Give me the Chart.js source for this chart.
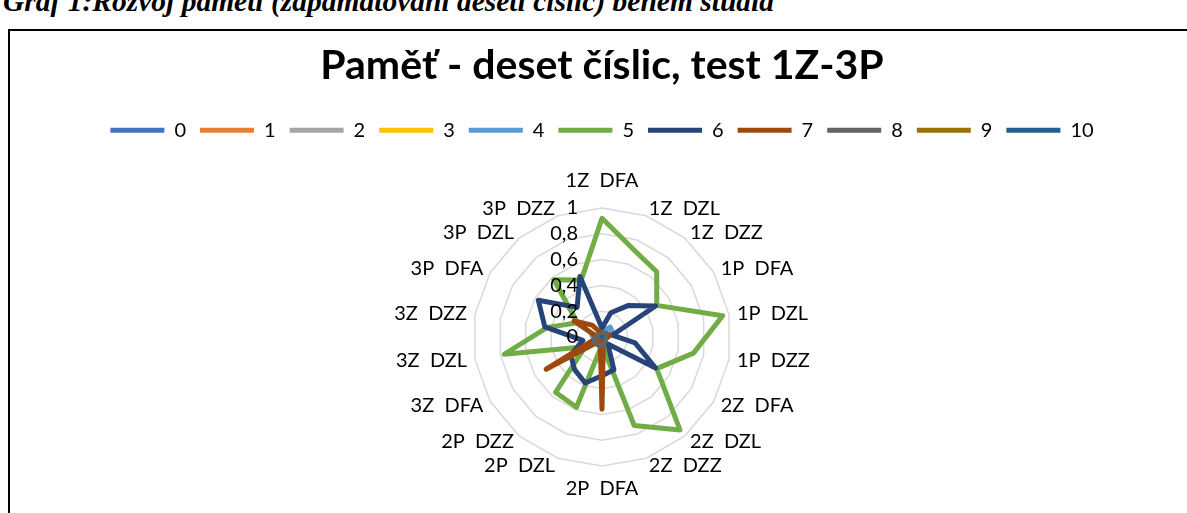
<!DOCTYPE html>
<html>
<head>
<meta charset="utf-8">
<script src="https://cdn.jsdelivr.net/npm/chart.js@4.4.1/dist/chart.umd.min.js"></script>
<style>
  html, body { margin: 0; padding: 0; background: #fff; overflow: hidden; }
  #cap { position: absolute; left: 3px; top: -13px; font: bold italic 29.5px/29px "Liberation Serif"; white-space: nowrap; color: #000; }
  #box { position: absolute; left: 8px; top: 29px; width: 1220px; height: 520px; border-left: 2px solid #000; border-top: 2px solid #000; }
  #wrap { position: absolute; left: 0; top: 0; width: 1184px; height: 482px; }
</style>
</head>
<body>
<div id="cap">Graf 1:Rozvoj paměti (zapamatování deseti číslic) během studia</div>
<div id="box"><div id="wrap"><canvas id="c"></canvas></div></div>
<script>
// kategorie (období + test)
const categories = ['1Z  DFA', '1Z  DZL', '1Z  DZZ', '1P  DFA', '1P  DZL', '1P  DZZ',
                    '2Z  DFA', '2Z  DZL', '2Z  DZZ', '2P  DFA', '2P  DZL', '2P  DZZ',
                    '3Z  DFA', '3Z  DZL', '3Z  DZZ', '3P  DFA', '3P  DZL', '3P  DZZ'];

const seriesNames = ['0', '1', '2', '3', '4', '5', '6', '7', '8', '9', '10'];
const seriesColors = ['#4472C4', '#ED7D31', '#A5A5A5', '#FFC000', '#5B9BD5', '#70AD47',
                      '#264478', '#9E480E', '#636363', '#997300', '#255E91'];

// podíly
const s0  = [0, 0, 0, 0, 0, 0, 0, 0, 0, 0, 0, 0, 0, 0, 0, 0, 0, 0];
const s1  = [0, 0, 0, 0, 0, 0, 0, 0, 0, 0, 0, 0, 0, 0, 0, 0, 0, 0];
const s2  = [0, 0, 0, 0, 0, 0, 0, 0, 0, 0, 0, 0, 0, 0, 0, 0, 0, 0];
const s3  = [0, 0, 0, 0, 0, 0, 0, 0, 0, 0, 0, 0, 0, 0, 0, 0, 0, 0];
const s4  = [0.03, 0.06, 0.1, 0.09, 0.05, 0.03, 0.02, 0.02, 0.02, 0.02, 0.02, 0.02, 0.03, 0.06, 0.08, 0.04, 0.03, 0.03];
const s5  = [0.92, 0.72, 0.66, 0.49, 0.95, 0.72, 0.49, 0.94, 0.73, 0.06, 0.58, 0.56, 0.15, 0.77, 0.43, 0.22, 0.58, 0.47];
const s6  = [0.07, 0.2, 0.32, 0.48, 0.08, 0.26, 0.48, 0.07, 0.27, 0.3, 0.38, 0.33, 0.28, 0.15, 0.45, 0.57, 0.3, 0.5];
const s7  = [0.03, 0.03, 0.04, 0.05, 0.06, 0.04, 0.03, 0.03, 0.03, 0.56, 0.04, 0.05, 0.5, 0.04, 0.05, 0.25, 0.12, 0.04];
const s8  = [0.02, 0.03, 0.04, 0.04, 0.03, 0.03, 0.03, 0.04, 0.05, 0.07, 0.07, 0.07, 0.07, 0.06, 0.04, 0.03, 0.02, 0.02];
const s9  = [0, 0, 0, 0, 0, 0, 0, 0, 0, 0, 0, 0, 0, 0, 0, 0, 0, 0];
const s10 = [0, 0, 0, 0, 0, 0, 0, 0, 0, 0, 0, 0, 0, 0, 0, 0, 0, 0];
const seriesValues = [s0, s1, s2, s3, s4, s5, s6, s7, s8, s9, s10];

const tickValues = [0, 0.2, 0.4, 0.6, 0.8, 1];
const tickLabels = ['0', '0,2', '0,4', '0,6', '0,8', '1'];

const FONT = 'Lato';

// popisky osy vlevo od středu + popisky kategorií vycentrované na paprsek (jako Excel)
const labelsPlugin = {
    id: 'excelLabels',
    afterDatasetsDraw(chart) {
        const s = chart.scales.r;
        const ctx = chart.ctx;
        ctx.save();
        ctx.font = '20px ' + FONT;
        ctx.fillStyle = '#000';

        ctx.textAlign = 'right';
        ctx.textBaseline = 'middle';
        tickValues.forEach((v, i) => {
            ctx.fillText(tickLabels[i], s.xCenter - 24, s.yCenter - s.getDistanceFromCenterForValue(v));
        });

        categories.forEach((lbl, i) => {
            const deg = Math.round(s.getIndexAngle(i) * 180 / Math.PI) % 360;
            if (deg === 0 || deg === 180) {
                const p = s.getPointPosition(i, s.drawingArea + (deg === 0 ? 17 : 13));
                ctx.textAlign = 'center';
                ctx.textBaseline = deg === 0 ? 'bottom' : 'top';
                ctx.fillText(lbl, p.x, p.y);
            } else {
                const p = s.getPointPosition(i, s.drawingArea + 8);
                ctx.textAlign = deg < 180 ? 'left' : 'right';
                ctx.textBaseline = 'middle';
                ctx.fillText(lbl, p.x, p.y);
            }
        });
        ctx.restore();
    }
};

// místo mezi legendou a grafem
const legendGap = {
    id: 'legendGap',
    beforeInit(chart) {
        const fit = chart.legend.fit;
        chart.legend.fit = function () {
            fit.bind(chart.legend)();
            this.height += 57;
        };
    }
};

const datasets = seriesNames.map((name, i) => ({
    label: name,
    data: seriesValues[i],
    borderColor: seriesColors[i],
    backgroundColor: seriesColors[i],
    borderWidth: 5,
    borderCapStyle: 'round',
    borderJoinStyle: 'round',
    pointRadius: 0,
    pointHoverRadius: 0,
    fill: false,
    order: seriesNames.length - i
}));

new Chart(document.getElementById('c'), {
    type: 'radar',
    data: { labels: categories, datasets: datasets },
    plugins: [labelsPlugin, legendGap],
    options: {
        responsive: true,
        maintainAspectRatio: false,
        animation: false,
        layout: { padding: { top: 0, bottom: 46, left: 0, right: 0 } },
        plugins: {
            title: {
                display: true,
                text: 'Paměť - deset číslic, test 1Z-3P',
                color: '#000',
                font: { family: FONT, size: 41, weight: 'bold' },
                padding: { top: 10, bottom: 16 }
            },
            legend: {
                position: 'top',
                labels: {
                    usePointStyle: true,
                    pointStyle: 'line',
                    pointStyleWidth: 54,
                    color: '#000',
                    font: { family: FONT, size: 20 },
                    padding: 14,
                    sort: (a, b) => a.datasetIndex - b.datasetIndex
                }
            },
            tooltip: { enabled: false }
        },
        scales: {
            r: {
                min: 0,
                max: 1,
                ticks: { stepSize: 0.2, display: false },
                grid: { color: '#D9D9D9', lineWidth: 1.5 },
                angleLines: { display: false },
                pointLabels: { display: false }
            }
        }
    }
});
</script>
</body>
</html>
